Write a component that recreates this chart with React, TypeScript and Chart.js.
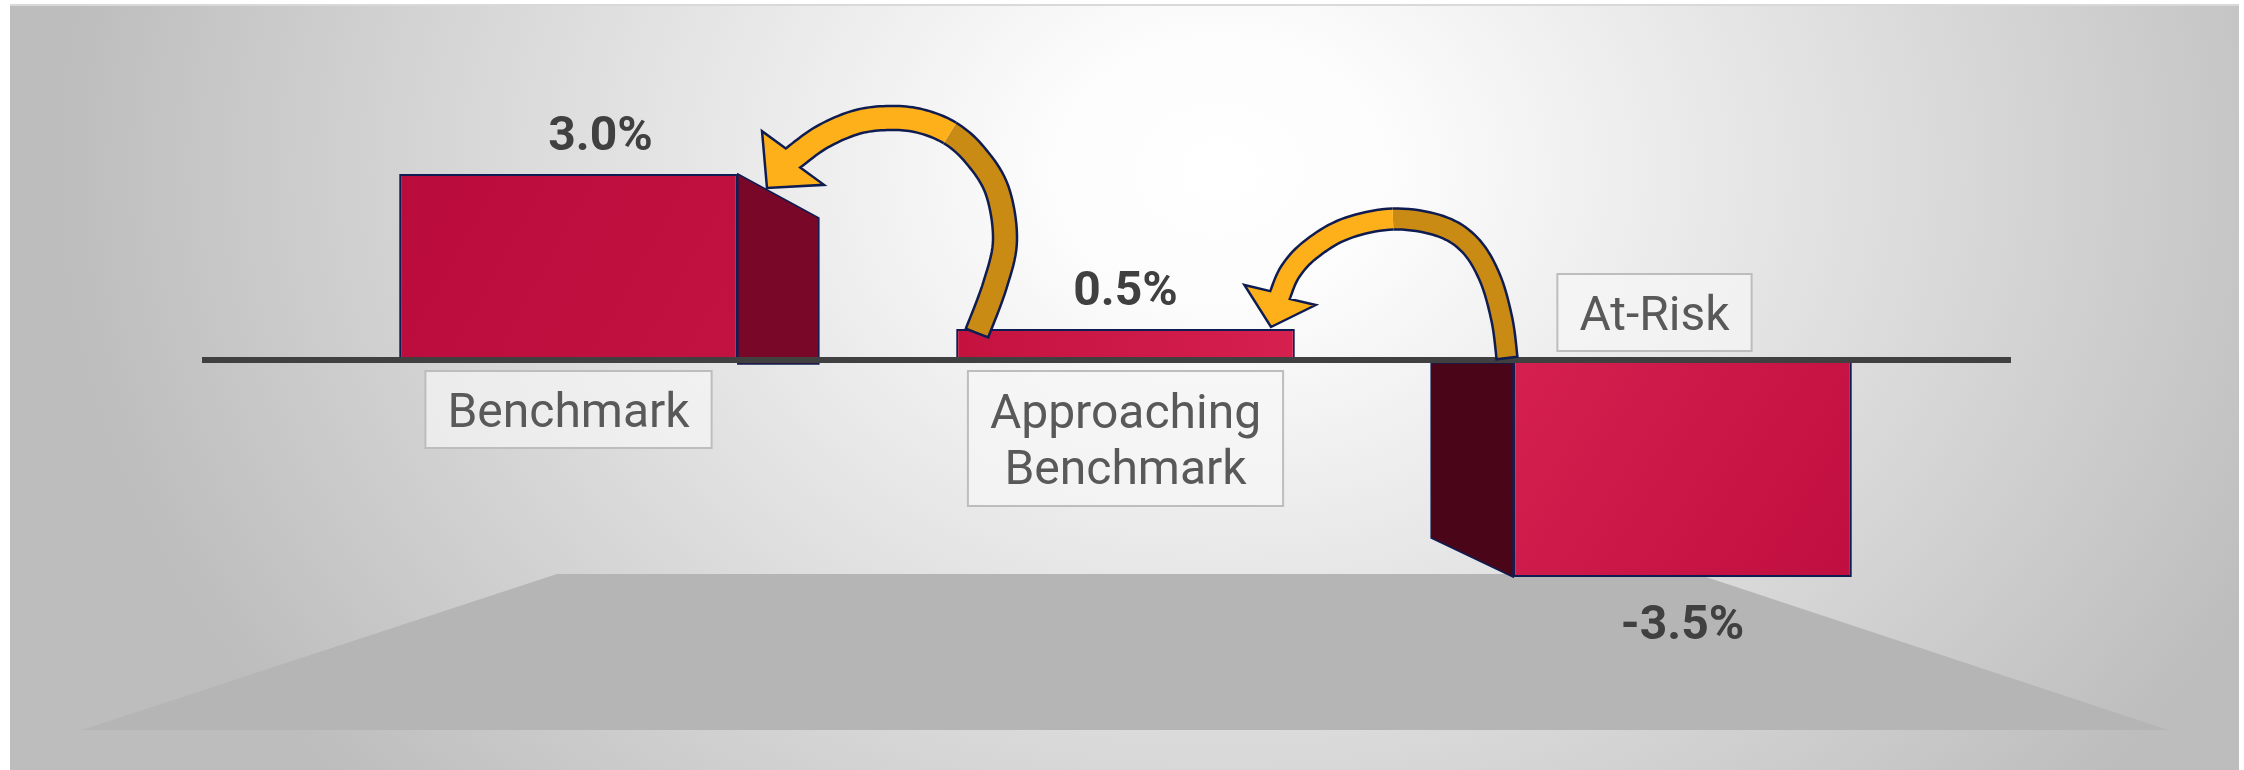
import React, { useEffect, useRef } from 'react';
import { Chart, registerables } from 'chart.js';

Chart.register(...registerables);

// ---------------- data ----------------
const categories: (string | string[])[] = ['Benchmark', ['Approaching', 'Benchmark'], 'At-Risk'];
const values: number[] = [3.0, 0.5, -3.5];
const valueLabels: string[] = ['3.0%', '0.5%', '-3.5%'];
const yMin = -6;
const yMax = 5;

// ---------------- styles ----------------
const FONT = 'Roboto, "Noto Sans", "DejaVu Sans", sans-serif';
const barGradients: [string, string][] = [
  ['#BA0B3D', '#C21241'],
  ['#C4123F', '#D6204F'],
  ['#D5204F', '#C00E40'],
];
const sideColors = ['#790727', '#790727', '#4A0519'];
const NAVY = '#0E1C52';
const BAR_PCT = 0.608;

type P = [number, number];

function barFill(c: any) {
  const chart = c.chart;
  const xs = chart.scales?.x;
  const ys = chart.scales?.y;
  const i = c.dataIndex;
  const fallback = barGradients[i ?? 0]?.[0] ?? '#BE0E3F';
  if (!xs || !ys || i === undefined || !chart.ctx) return fallback;
  const cx = xs.getPixelForValue(i);
  const half = (xs.width / categories.length) * BAR_PCT / 2;
  const y0 = ys.getPixelForValue(0);
  const y1 = ys.getPixelForValue(values[i]);
  const nums = [cx, half, y0, y1];
  if (!nums.every(n => Number.isFinite(n)) || half <= 0) return fallback;
  const g = chart.ctx.createLinearGradient(cx - half, Math.min(y0, y1), cx + half, Math.max(y0, y1));
  g.addColorStop(0, barGradients[i][0]);
  g.addColorStop(1, barGradients[i][1]);
  return g;
}

function catmull(pts: P[], steps: number): P[] {
  const out: P[] = [];
  for (let i = 0; i < pts.length - 1; i++) {
    const p0 = pts[Math.max(i - 1, 0)];
    const p1 = pts[i];
    const p2 = pts[i + 1];
    const p3 = pts[Math.min(i + 2, pts.length - 1)];
    for (let s = 0; s < steps; s++) {
      const t = s / steps, t2 = t * t, t3 = t2 * t;
      const f = (k: number) =>
        0.5 * (2 * p1[k] + (-p0[k] + p2[k]) * t + (2 * p0[k] - 5 * p1[k] + 4 * p2[k] - p3[k]) * t2 + (-p0[k] + 3 * p1[k] - 3 * p2[k] + p3[k]) * t3);
      out.push([f(0), f(1)]);
    }
  }
  out.push(pts[pts.length - 1]);
  return out;
}

function edges(s: P[], w: number) {
  const L: P[] = [];
  const R: P[] = [];
  for (let k = 0; k < s.length; k++) {
    const a = s[Math.max(k - 1, 0)];
    const b = s[Math.min(k + 1, s.length - 1)];
    let tx = b[0] - a[0], ty = b[1] - a[1];
    const len = Math.hypot(tx, ty) || 1;
    tx /= len; ty /= len;
    const nx = -ty, ny = tx;
    L.push([s[k][0] + nx * w / 2, s[k][1] + ny * w / 2]);
    R.push([s[k][0] - nx * w / 2, s[k][1] - ny * w / 2]);
  }
  return { L, R };
}

function drawArrow(ctx: CanvasRenderingContext2D, anchor: P, rel: P[], splitIdx: number, tipRel: P, w: number, headHalf: number) {
  const steps = 10;
  const pts: P[] = rel.map(p => [anchor[0] + p[0], anchor[1] + p[1]]);
  const tip: P = [anchor[0] + tipRel[0], anchor[1] + tipRel[1]];
  const s = catmull(pts, steps);
  const { L, R } = edges(s, w);
  const k = splitIdx * steps;
  ctx.save();
  ctx.lineWidth = 2.5;
  ctx.strokeStyle = NAVY;
  ctx.lineJoin = 'miter';
  // dark (back) part
  ctx.beginPath();
  for (let i = 0; i <= k; i++) i === 0 ? ctx.moveTo(L[i][0], L[i][1]) : ctx.lineTo(L[i][0], L[i][1]);
  for (let i = k; i >= 0; i--) ctx.lineTo(R[i][0], R[i][1]);
  ctx.closePath();
  ctx.fillStyle = '#C98B14';
  ctx.fill();
  // outline without the split edge
  ctx.beginPath();
  ctx.moveTo(L[k][0], L[k][1]);
  for (let i = k - 1; i >= 0; i--) ctx.lineTo(L[i][0], L[i][1]);
  for (let i = 0; i <= k; i++) ctx.lineTo(R[i][0], R[i][1]);
  ctx.stroke();
  // bright (front) part with head
  const B = s[s.length - 1];
  let dx = tip[0] - B[0], dy = tip[1] - B[1];
  const dl = Math.hypot(dx, dy) || 1;
  dx /= dl; dy /= dl;
  const nx = -dy, ny = dx;
  const outline = () => {
    ctx.beginPath();
    for (let i = k; i < s.length; i++) i === k ? ctx.moveTo(L[i][0], L[i][1]) : ctx.lineTo(L[i][0], L[i][1]);
    ctx.lineTo(B[0] + nx * headHalf, B[1] + ny * headHalf);
    ctx.lineTo(tip[0], tip[1]);
    ctx.lineTo(B[0] - nx * headHalf, B[1] - ny * headHalf);
    for (let i = s.length - 1; i >= k; i--) ctx.lineTo(R[i][0], R[i][1]);
  };
  outline();
  ctx.closePath();
  ctx.fillStyle = '#FDB01A';
  ctx.fill();
  outline();
  ctx.stroke();
  ctx.restore();
}

// arrow shapes, relative to (midpoint between two categories, zero line)
const arrow1Rel: P[] = [
  [130, -27], [148, -75], [158, -120], [150, -170], [128, -205], [103, -227],
  [73, -239], [43, -242], [10, -238], [-25, -223], [-54, -202],
];
const arrow1Tip: P = [-80, -172];
const arrow2Rel: P[] = [
  [103, -2], [98, -40], [86, -82], [66, -115], [36, -134], [-11, -141],
  [-59, -131], [-94, -110], [-114, -88], [-124, -65],
];
const arrow2Tip: P = [-133, -33];

const decorPlugin = {
  id: 'decor',
  beforeDraw(chart: any) {
    const { ctx, width, height } = chart;
    ctx.save();
    ctx.fillStyle = '#ffffff';
    ctx.fillRect(0, 0, width, height);
    const px = 10, py = 4, pw = width - 15, ph = height - py;
    ctx.save();
    ctx.beginPath();
    ctx.rect(px, py, pw, ph);
    ctx.clip();
    ctx.translate(1220, 170);
    ctx.scale(1, 0.8);
    const g = ctx.createRadialGradient(0, 0, 0, 0, 0, 1160);
    g.addColorStop(0, '#ffffff');
    g.addColorStop(0.15, '#fcfcfc');
    g.addColorStop(0.55, '#dfdfdf');
    g.addColorStop(1, '#bdbdbd');
    ctx.fillStyle = g;
    ctx.fillRect(-3000, -3000, 6000, 6000);
    ctx.restore();
    ctx.fillStyle = '#d9d9d9';
    ctx.fillRect(px, py, pw, 2);
    // floor
    ctx.beginPath();
    ctx.moveTo(557, 574);
    ctx.lineTo(1697, 574);
    ctx.lineTo(2168, 730);
    ctx.lineTo(82, 730);
    ctx.closePath();
    ctx.fillStyle = '#b5b5b5';
    ctx.fill();
    ctx.restore();
  },
  afterDatasetsDraw(chart: any) {
    const { ctx, chartArea } = chart;
    const xs = chart.scales.x;
    const ys = chart.scales.y;
    const meta = chart.getDatasetMeta(0);
    const zero = ys.getPixelForValue(0);
    ctx.save();
    // side faces
    meta.data.forEach((bar: any, i: number) => {
      const v = values[i];
      const left = bar.x - bar.width / 2;
      const right = bar.x + bar.width / 2;
      ctx.beginPath();
      if (v > 1) {
        ctx.moveTo(right, bar.y);
        ctx.lineTo(right + 81, bar.y + 44);
        ctx.lineTo(right + 81, zero + 4);
        ctx.lineTo(right, zero + 4);
      } else if (v < 0) {
        ctx.moveTo(left, zero + 3);
        ctx.lineTo(left - 82, zero + 3);
        ctx.lineTo(left - 82, bar.y - 39);
        ctx.lineTo(left, bar.y);
      } else return;
      ctx.closePath();
      ctx.fillStyle = sideColors[i];
      ctx.fill();
      ctx.lineWidth = 1.5;
      ctx.strokeStyle = NAVY;
      ctx.stroke();
    });
    // base line
    ctx.fillStyle = '#404040';
    ctx.fillRect(chartArea.left - 88, zero - 3, chartArea.right - chartArea.left + 138, 6);

    // arrows
    drawArrow(ctx, [xs.getPixelForValue(0.5), zero], arrow1Rel, 5, arrow1Tip, 24, 41);
    drawArrow(ctx, [xs.getPixelForValue(1.5), zero], arrow2Rel, 5, arrow2Tip, 21, 37);

    // category label boxes
    const labelOffsetX = [0, 0, -28];
    ctx.font = `48px ${FONT}`;
    meta.data.forEach((bar: any, i: number) => {
      const raw = chart.data.labels[i];
      const lines: string[] = Array.isArray(raw) ? raw : [raw];
      const tw = Math.max(...lines.map(l => ctx.measureText(l).width));
      const bw = tw + 44;
      const bh = 77 + (lines.length - 1) * 58;
      const cx = bar.x + labelOffsetX[i];
      const top = values[i] >= 0 ? zero + 11 : zero - 9 - bh;
      ctx.fillStyle = 'rgba(246,246,246,0.7)';
      ctx.fillRect(cx - bw / 2, top, bw, bh);
      ctx.lineWidth = 2;
      ctx.strokeStyle = '#bdbdbd';
      ctx.strokeRect(cx - bw / 2, top, bw, bh);
      ctx.fillStyle = '#595959';
      ctx.textAlign = 'center';
      ctx.textBaseline = 'alphabetic';
      const mid = top + bh / 2;
      lines.forEach((l, j) => {
        ctx.fillText(l, cx, mid + 17 + (j - (lines.length - 1) / 2) * 56);
      });
    });

    // value labels
    const valueOffsetX = [32, 0, 0];
    ctx.font = `bold 48px ${FONT}`;
    ctx.fillStyle = '#404040';
    ctx.textAlign = 'center';
    meta.data.forEach((bar: any, i: number) => {
      const y = values[i] >= 0 ? bar.y - 24 : bar.y + 62;
      ctx.fillText(valueLabels[i], bar.x + valueOffsetX[i], y);
    });
    ctx.restore();
  },
};

export default function App() {
  const ref = useRef<HTMLCanvasElement>(null);
  useEffect(() => {
    if (!ref.current) return;
    const chart = new Chart(ref.current, {
      type: 'bar',
      data: {
        labels: categories as any,
        datasets: [
          {
            data: values,
            backgroundColor: barFill as any,
            borderColor: NAVY,
            borderWidth: 2,
            borderSkipped: false,
            barPercentage: BAR_PCT,
            categoryPercentage: 1,
          },
        ],
      },
      options: {
        responsive: false,
        animation: false,
        devicePixelRatio: 1,
        layout: { padding: { left: 290, right: 283, top: 50, bottom: 38 } },
        scales: {
          x: { display: false },
          y: { display: false, min: yMin, max: yMax },
        },
        plugins: {
          legend: { display: false },
          tooltip: { enabled: false },
          title: { display: false },
        },
      },
      plugins: [decorPlugin],
    });
    return () => chart.destroy();
  }, []);
  return (
    <div style={{ position: 'absolute', left: 0, top: 0, width: 2244, height: 770, overflow: 'hidden' }}>
      <canvas ref={ref} width={2244} height={770} style={{ display: 'block', width: 2244, height: 770 }} />
    </div>
  );
}
